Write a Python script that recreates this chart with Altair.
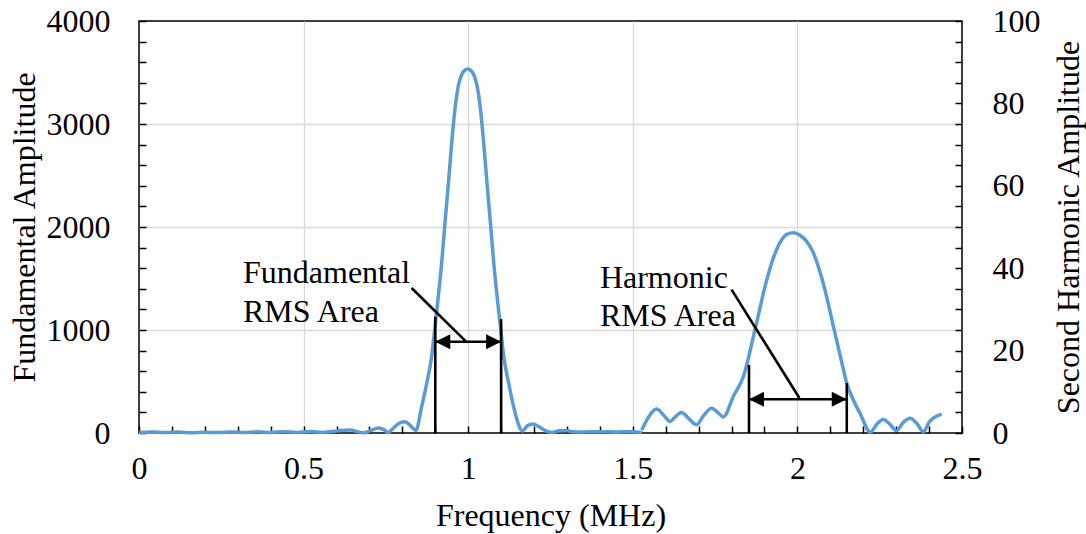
import altair as alt
import pandas as pd

# ---------------- data ----------------
fund_freq = [0.000, 0.040, 0.080, 0.120, 0.160, 0.200, 0.240, 0.280, 0.320, 0.360,
             0.400, 0.440, 0.480, 0.520, 0.560, 0.600, 0.640, 0.680, 0.705, 0.727,
             0.745, 0.757, 0.775, 0.790, 0.808, 0.825, 0.841,
             0.8587, 0.874, 0.889, 0.8992, 0.9093, 0.9194, 0.9295, 0.940, 0.950,
             0.960, 0.970, 0.980, 0.990, 0.9985, 1.007, 1.017, 1.027, 1.037, 1.047,
             1.057, 1.0675, 1.0776, 1.0877, 1.0978, 1.108, 1.123, 1.138, 1.150,
             1.164, 1.180, 1.197, 1.215, 1.240, 1.255,
             1.275, 1.295, 1.320, 1.350, 1.400, 1.450, 1.500, 1.528]
fund_amp = [5, 10, 4, 9, 3, 8, 4, 10, 5, 11,
            5, 13, 6, 15, 6, 20, 28, 3, 25, 48,
            30, 5, 55, 95, 110, 70, 25,
            256, 483, 743, 1035, 1327, 1651, 2041, 2430, 2819,
            3150, 3370, 3478, 3522, 3533, 3522, 3478, 3370, 3150, 2819,
            2430, 2041, 1651, 1327, 1035, 743, 483, 256, 110,
            20, 70, 88, 60, 15, 5,
            22, 25, 12, 10, 12, 10, 12, 5]

harm_freq = [1.527, 1.545, 1.572, 1.595, 1.613, 1.630, 1.648, 1.670, 1.694, 1.715,
             1.739, 1.758, 1.775, 1.806, 1.836, 1.871, 1.907, 1.927, 1.947, 1.968,
             1.988, 2.008, 2.028, 2.048, 2.069, 2.089, 2.109, 2.130, 2.150, 2.170,
             2.190, 2.222, 2.242, 2.261, 2.280, 2.301, 2.322, 2.342, 2.362, 2.383,
             2.400, 2.413, 2.438]
harm_amp = [0.7, 3.5, 5.8, 4.2, 2.8, 4.0, 5.0, 3.5, 2.0, 4.2,
            6.0, 5.0, 3.9, 9.0, 13.7, 25.0, 37.2, 42.5, 46.2, 48.2,
            48.6, 48.0, 46.5, 43.8, 39.0, 33.0, 26.0, 18.8, 12.1, 8.0,
            4.8, 0.2, 2.2, 3.3, 2.2, 0.6, 2.6, 3.6, 2.4, 0.3,
            2.6, 3.6, 4.6]

# axis tick values
x_major = [0, 0.5, 1, 1.5, 2, 2.5]
x_minor = [0, 0.1, 0.2, 0.3, 0.4, 0.5, 0.6, 0.7, 0.8, 0.9, 1.0, 1.1, 1.2,
           1.3, 1.4, 1.5, 1.6, 1.7, 1.8, 1.9, 2.0, 2.1, 2.2, 2.3, 2.4, 2.5]
yF_major = [0, 1000, 2000, 3000, 4000]
yF_minor = [0, 200, 400, 600, 800, 1000, 1200, 1400, 1600, 1800, 2000, 2200,
            2400, 2600, 2800, 3000, 3200, 3400, 3600, 3800, 4000]
yH_major = [0, 20, 40, 60, 80, 100]
yH_minor = [0, 5, 10, 15, 20, 25, 30, 35, 40, 45, 50, 55, 60, 65, 70, 75,
            80, 85, 90, 95, 100]

# annotations (fundamental, left-axis units)
fund_text = ["Fundamental", "RMS Area"]
fund_text_x = [0.316, 0.316]
fund_text_y = [1460, 1080]
fund_bracket_x = [0.9, 1.1]
fund_bracket_top = [1130, 1105]
fund_arrow_y = 886
fund_leader = [0.828, 1408, 0.993, 889]

# annotations (harmonic, right-axis units)
harm_text = ["Harmonic", "RMS Area"]
harm_text_x = [1.400, 1.400]
harm_text_y = [35.2, 25.9]
harm_bracket_x = [1.853, 2.15]
harm_bracket_top = [16.5, 12.1]
harm_arrow_y = 8.2
harm_leader = [1.800, 34.8, 2.006, 8.5]

# ---------------- chart ----------------
W, H = 823, 412
FONT = "Liberation Serif"
FS = 32
BLUE = "#5B9BD5"
GRID = "#D9D9D9"

fund_df = pd.DataFrame({"f": fund_freq, "a": fund_amp})
harm_df = pd.DataFrame({"f": harm_freq, "a": harm_amp})

xs = alt.Scale(domain=[0, 2.5], nice=False, zero=False)
ysF = alt.Scale(domain=[0, 4000], nice=False)
ysH = alt.Scale(domain=[0, 100], nice=False)

line_fund = alt.Chart(fund_df).mark_line(
    color=BLUE, strokeWidth=3.5, interpolate="monotone"
).encode(
    x=alt.X("f:Q", scale=xs, axis=alt.Axis(
        values=x_major, format="~g", title="Frequency (MHz)", labelFlush=False,
        grid=True, gridColor=GRID, gridWidth=1.3,
        gridOpacity={"condition": {"test": "datum.value <= 0 || datum.value >= 2.5", "value": 0}, "value": 1},
        ticks=False, domain=False, labelPadding=20, titlePadding=16)),
    y=alt.Y("a:Q", scale=ysF, axis=alt.Axis(
        values=yF_major, format="d", title="Fundamental Amplitude",
        grid=True, gridColor=GRID, gridWidth=1.3,
        gridOpacity={"condition": {"test": "datum.value <= 0 || datum.value >= 4000", "value": 0}, "value": 1},
        ticks=False, domain=False, labelPadding=29, titlePadding=5)),
)

ticks_fund = alt.Chart(fund_df).mark_line(strokeOpacity=0).encode(
    x=alt.X("f:Q", scale=xs, axis=alt.Axis(
        orient="top", offset=-H, values=x_minor, labels=False, ticks=True,
        tickSize=7, tickWidth=1.5, tickColor="black", domain=False, grid=False, title=None)),
    y=alt.Y("a:Q", scale=ysF, axis=alt.Axis(
        orient="right", offset=-W, values=yF_minor, labels=False, ticks=True,
        tickSize=7, tickWidth=1.5, tickColor="black", domain=False, grid=False, title=None)),
)

line_harm = alt.Chart(harm_df).mark_line(
    color=BLUE, strokeWidth=3.5, interpolate="monotone"
).encode(
    x=alt.X("f:Q", scale=xs, axis=None),
    y=alt.Y("a:Q", scale=ysH, axis=alt.Axis(
        orient="right", values=yH_major, format="d", title="Second Harmonic Amplitude",
        titleAngle=270, titleBaseline="top",
        grid=False, ticks=False, domain=False, labelPadding=30, titlePadding=13)),
)

ticks_harm = alt.Chart(harm_df).mark_line(strokeOpacity=0).encode(
    x=alt.X("f:Q", scale=xs, axis=None),
    y=alt.Y("a:Q", scale=ysH, axis=alt.Axis(
        orient="left", offset=-W, values=yH_minor, labels=False, ticks=True,
        tickSize=7, tickWidth=1.5, tickColor="black", domain=False, grid=False, title=None)),
)


def annotation(scale, text, tx, ty, bx, btop, ay, leader):
    tdf = pd.DataFrame({"x": tx, "y": ty, "t": text})
    bdf = pd.DataFrame({"x": bx, "y0": [0] * len(bx), "y1": btop})
    adf = pd.DataFrame({"x0": [bx[0]], "x1": [bx[1]], "y": [ay]})
    ldf = pd.DataFrame({"x0": [leader[0]], "y0": [leader[1]],
                        "x1": [leader[2]], "y1": [leader[3]]})
    hdf = pd.DataFrame({"x": bx, "y": [ay, ay], "side": ["l", "r"]})

    txt = alt.Chart(tdf).mark_text(
        font=FONT, fontSize=FS, align="left", baseline="alphabetic", color="black"
    ).encode(
        x=alt.X("x:Q", scale=xs, axis=None),
        y=alt.Y("y:Q", scale=scale, axis=None),
        text="t:N",
    )
    brackets = alt.Chart(bdf).mark_rule(color="black", strokeWidth=2.6).encode(
        x=alt.X("x:Q", scale=xs, axis=None),
        y=alt.Y("y0:Q", scale=scale, axis=None),
        y2="y1:Q",
    )
    arrow = alt.Chart(adf).mark_rule(color="black", strokeWidth=2.6).encode(
        x=alt.X("x0:Q", scale=xs, axis=None),
        x2="x1:Q",
        y=alt.Y("y:Q", scale=scale, axis=None),
    )
    lead = alt.Chart(ldf).mark_rule(color="black", strokeWidth=2.6).encode(
        x=alt.X("x0:Q", scale=xs, axis=None),
        x2="x1:Q",
        y=alt.Y("y0:Q", scale=scale, axis=None),
        y2="y1:Q",
    )
    head_l = alt.Chart(hdf[hdf.side == "l"]).mark_point(
        shape="M0,0L1,-0.5L1,0.5Z", size=900, filled=True, color="black", opacity=1
    ).encode(
        x=alt.X("x:Q", scale=xs, axis=None),
        y=alt.Y("y:Q", scale=scale, axis=None),
    )
    head_r = alt.Chart(hdf[hdf.side == "r"]).mark_point(
        shape="M0,0L-1,-0.5L-1,0.5Z", size=900, filled=True, color="black", opacity=1
    ).encode(
        x=alt.X("x:Q", scale=xs, axis=None),
        y=alt.Y("y:Q", scale=scale, axis=None),
    )
    return [txt, brackets, arrow, lead, head_l, head_r]


ann_f = annotation(ysF, fund_text, fund_text_x, fund_text_y, fund_bracket_x,
                   fund_bracket_top, fund_arrow_y, fund_leader)
ann_h = annotation(ysH, harm_text, harm_text_x, harm_text_y, harm_bracket_x,
                   harm_bracket_top, harm_arrow_y, harm_leader)

chart = alt.layer(
    ticks_fund, ticks_harm, line_fund, line_harm, *ann_f, *ann_h
).resolve_scale(
    y="independent"
).resolve_axis(
    x="independent", y="independent"
).properties(
    width=W, height=H,
    autosize=alt.AutoSizeParams(type="none"),
    padding={"left": 139, "top": 21, "right": 124, "bottom": 101},
    background="white",
).configure_view(
    stroke="black", strokeWidth=1.5
).configure_axis(
    labelFont=FONT, titleFont=FONT, labelFontSize=FS, titleFontSize=FS,
    labelColor="black", titleColor="black", titleFontWeight="normal",
)

chart.save("out.html", embed_options={"renderer": "svg", "actions": False})
